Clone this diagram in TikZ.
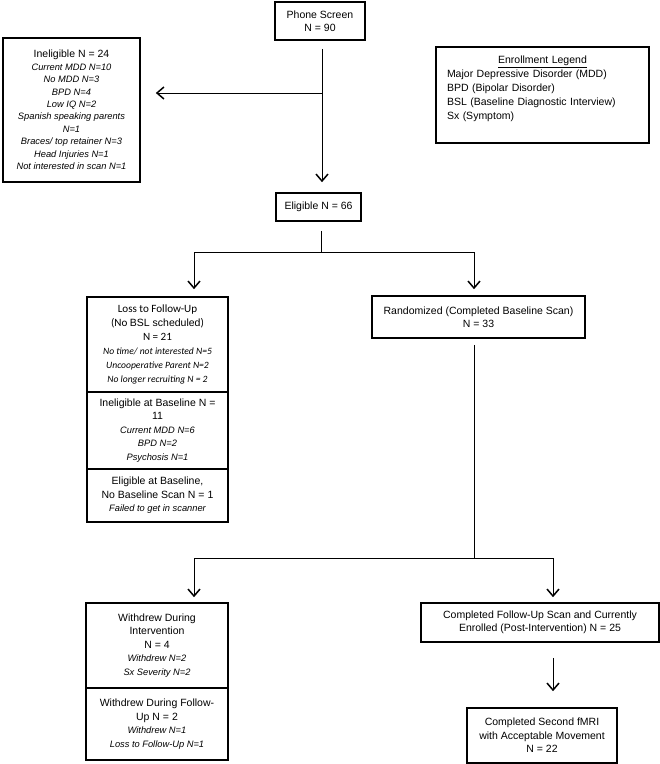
\documentclass[tikz,border=0pt]{standalone}
\usepackage{fontspec}
\setmainfont{Liberation Sans}
\newfontfamily\calibri{Carlito}
\usepackage{tikz}
\usetikzlibrary{arrows.meta,calc}

% small italic detail line
\newcommand{\detail}[1]{{\fontsize{9.3}{12}\selectfont\itshape #1}}

\begin{document}
\begin{tikzpicture}[x=1pt,y=-1pt,
    >={Straight Barb[length=7pt,width=12pt,line width=1.5pt]},
    box/.style={draw,line width=1.6pt,inner sep=0pt,align=center,
      font=\fontsize{10.5}{13.5}\selectfont},
    link/.style={line width=0.9pt}]
  \useasboundingbox (0,0) rectangle (660,764);

  % top row
  \node[box,minimum width=90pt,minimum height=38pt] (phone) at (320,21)
    {Phone Screen\\N = 90};
  \node[box,minimum width=137pt,minimum height=144pt,
    font=\fontsize{10.5}{12.4}\selectfont] (inel) at (71.5,110)
    {Ineligible N = 24\\ \detail{Current MDD N=10}\\ \detail{No MDD N=3}\\
     \detail{BPD N=4}\\ \detail{Low IQ N=2}\\ \detail{Spanish speaking parents}\\
     \detail{N=1}\\ \detail{Braces/ top retainer N=3}\\ \detail{Head Injuries N=1}\\
     \detail{Not interested in scan N=1}};
  \node[box,minimum width=213pt,minimum height=96pt,text width=191pt,align=left,
    font=\fontsize{10.5}{14}\selectfont] (legend) at (542.5,95)
    {\makebox[191pt]{\underline{Enrollment Legend}}\\
     Major Depressive Disorder (MDD)\\ BPD (Bipolar Disorder)\\
     BSL (Baseline Diagnostic Interview)\\ Sx (Symptom)\\ \mbox{}};

  \node[box,minimum width=85pt,minimum height=28pt] (elig) at (318.5,207)
    {Eligible N = 66};

  % left stack after eligibility
  \node[box,minimum width=141pt,minimum height=95pt,
    font=\calibri\fontsize{11.1}{14}\selectfont] (loss) at (157.5,344.5)
    {Loss to Follow-Up\\(No {\rmfamily\fontsize{10.5}{14}\selectfont BSL scheduled})\\N = 21\\
     {\fontsize{9.6}{12}\selectfont\itshape No time/ not interested N=5}\\
     {\fontsize{9.6}{12}\selectfont\itshape Uncooperative Parent N=2}\\
     {\fontsize{9.6}{12}\selectfont\itshape No longer recruiting N = 2}};
  \node[box,minimum width=141pt,minimum height=77pt] (inbase) at (157.5,430.5)
    {Ineligible at Baseline N =\\11\\ \detail{Current MDD N=6}\\
     \detail{BPD N=2}\\ \detail{Psychosis N=1}};
  \node[box,minimum width=141pt,minimum height=53pt] (nobase) at (157.5,495.5)
    {Eligible at Baseline,\\No Baseline Scan N = 1\\ \detail{Failed to get in scanner}};

  \node[box,minimum width=213pt,minimum height=42pt] (rand) at (478.5,317)
    {Randomized (Completed Baseline Scan)\\N = 33};

  % after randomization
  \node[box,minimum width=142pt,minimum height=85pt] (wdint) at (157,645.5)
    {Withdrew During\\Intervention\\N = 4\\ \detail{Withdrew N=2}\\ \detail{Sx Severity N=2}};
  \node[box,minimum width=142pt,minimum height=72pt] (wdfu) at (157,724)
    {Withdrew During Follow-\\Up N = 2\\ \detail{Withdrew N=1}\\ \detail{Loss to Follow-Up N=1}};
  \node[box,minimum width=238pt,minimum height=39pt] (compfu) at (540,622.5)
    {Completed Follow-Up Scan and Currently\\Enrolled (Post-Intervention) N = 25};
  \node[box,minimum width=150pt,minimum height=55pt] (second) at (542,735.5)
    {Completed Second fMRI\\with Acceptable Movement\\N = 22};

  % connectors
  \coordinate (split1) at (322,93);
  \coordinate (fork1) at (321,252);
  \coordinate (fork2) at (474,558);
  \draw[link,->,shorten <=8pt,shorten >=10pt] ([xshift=2pt]phone.south)
    -- ([xshift=2pt]phone.south |- elig.north);
  \draw[link,->,shorten >=15pt] (split1) -- (inel.east |- split1);
  \draw[link,shorten <=9pt] ([xshift=2.5pt]elig.south) -- (fork1);
  \draw[link,->,shorten >=7pt] (fork1) -| ([xshift=36.5pt]loss.north);
  \draw[link,->,shorten >=6pt] (fork1) -| ([xshift=-4.5pt]rand.north);
  \draw[link,shorten <=6pt] ([xshift=-4.5pt]rand.south) -- (fork2);
  \draw[link,->,shorten >=5pt] (fork2) -| ([xshift=37pt]wdint.north);
  \draw[link,->,shorten >=5pt] (fork2) -| ([xshift=13pt]compfu.north);
  \draw[link,->,shorten <=15pt,shorten >=16pt] ([xshift=13pt]compfu.south)
    -- ([xshift=13pt]compfu.south |- second.north);
\end{tikzpicture}
\end{document}
